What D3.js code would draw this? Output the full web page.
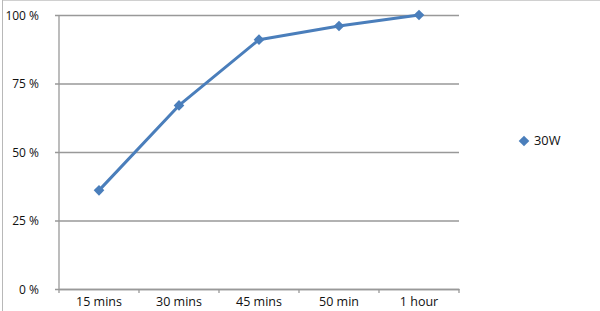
<!DOCTYPE html>
<html lang="en">
<head>
    <meta charset="utf-8">
    <title>30W charge curve</title>
    <style>
        body {
            margin: 0;
            padding: 0;
            background: #fff;
        }
        svg text {
            font-family: "Open Sans", Arial, sans-serif;
            font-size: 12px;
            fill: #111;
        }
        .x-axis text {
            font-size: 12.5px;
        }
    </style>
</head>
<body>

<div id="chart"></div>

<script src="https://d3js.org/d3.v7.min.js"></script>

<script>
  // Chart data
  const categories = ["15 mins", "30 mins", "45 mins", "50 min", "1 hour"];
  const values30W = [36, 67, 91, 96, 100];
  const yTicks = [0, 25, 50, 75, 100];
  const seriesName = "30W";

  const width = 600;
  const height = 311;
  const margin = { top: 15, right: 141, bottom: 22, left: 59 };
  const lineColor = "#4a7ebb";

  const svg = d3.select("#chart")
    .append("svg")
    .attr("width", width)
    .attr("height", height);

  // Outer frame (only top and left edges are visible in the picture)
  svg.append("line")
    .attr("x1", 2).attr("x2", width)
    .attr("y1", 0.5).attr("y2", 0.5)
    .attr("stroke", "#d0d0d0");
  svg.append("line")
    .attr("x1", 2.5).attr("x2", 2.5)
    .attr("y1", 0).attr("y2", height)
    .attr("stroke", "#b8b8b8");

  const x = d3.scaleBand()
    .domain(categories)
    .range([margin.left, width - margin.right]);

  const y = d3.scaleLinear()
    .domain([0, 100])
    .range([height - margin.bottom, margin.top]);

  // Horizontal gridlines with left tick stubs
  const yAxis = svg.append("g")
    .attr("transform", `translate(${margin.left},0)`)
    .call(d3.axisLeft(y)
      .tickValues(yTicks)
      .tickSize(-(width - margin.left - margin.right))
      .tickFormat(d => d + " %"));
  yAxis.select(".domain").remove();
  yAxis.selectAll(".tick line")
    .attr("x1", -4)
    .attr("stroke", "#999")
    .attr("stroke-width", 1.3);
  yAxis.selectAll(".tick text")
    .attr("x", -20)
    .attr("dy", "0.35em");

  // Vertical axis line
  svg.append("line")
    .attr("x1", margin.left).attr("x2", margin.left)
    .attr("y1", y(100)).attr("y2", y(0))
    .attr("stroke", "#999")
    .attr("stroke-width", 1.3);

  // Category axis
  const xAxis = svg.append("g")
    .attr("class", "x-axis")
    .attr("transform", `translate(0,${y(0)})`)
    .call(d3.axisBottom(x).tickSize(0).tickSizeOuter(0));
  xAxis.select(".domain").attr("stroke", "#999").attr("stroke-width", 1.3);
  xAxis.selectAll(".tick text").attr("dy", "1.15em");

  // Tick marks between categories
  const boundaries = categories.map(c => x(c)).concat([x(categories[categories.length - 1]) + x.bandwidth()]);
  svg.append("g")
    .selectAll("line")
    .data(boundaries)
    .join("line")
    .attr("x1", d => d).attr("x2", d => d)
    .attr("y1", y(0)).attr("y2", y(0) + 4)
    .attr("stroke", "#999")
    .attr("stroke-width", 1.3);

  // Series line
  const cx = d => x(d) + x.bandwidth() / 2;
  const line = d3.line()
    .x((d, i) => cx(categories[i]))
    .y(d => y(d));

  svg.append("path")
    .datum(values30W)
    .attr("fill", "none")
    .attr("stroke", lineColor)
    .attr("stroke-width", 3)
    .attr("stroke-linejoin", "round")
    .attr("d", line);

  const diamond = d3.symbol().type(d3.symbolDiamond2).size(72);

  svg.append("g")
    .selectAll("path")
    .data(values30W)
    .join("path")
    .attr("d", diamond)
    .attr("transform", (d, i) => `translate(${cx(categories[i])},${y(d)})`)
    .attr("fill", lineColor);

  // Legend
  const legend = svg.append("g").attr("transform", "translate(524,141)");
  legend.append("path")
    .attr("d", diamond)
    .attr("fill", lineColor);
  legend.append("text")
    .attr("x", 10)
    .attr("dy", "0.35em")
    .style("font-size", "12.8px")
    .text(seriesName);
</script>

</body>
</html>
